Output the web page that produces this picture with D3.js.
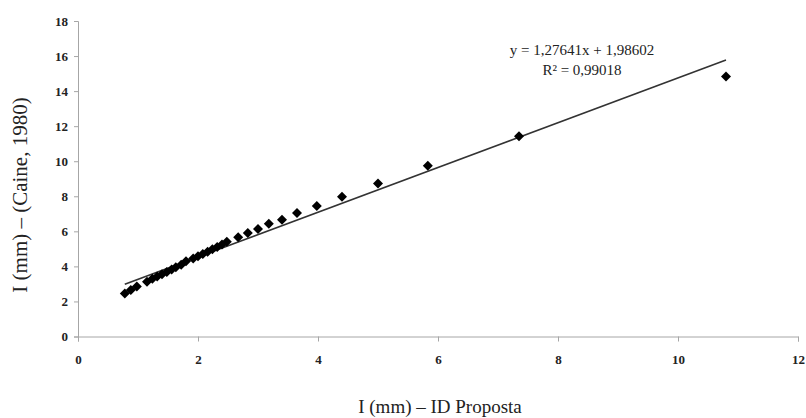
<!DOCTYPE html>
<html>
<head>
<meta charset="utf-8">
<script src="https://cdn.jsdelivr.net/npm/d3@7/dist/d3.min.js"></script>
<style>
  html, body { margin: 0; padding: 0; background: #fff; }
  svg { display: block; }
  .title { font-family: "Liberation Serif", "Times New Roman", serif; fill: #222; }
</style>
</head>
<body>
<svg id="chart" width="806" height="418"></svg>
<script>
// Measured intensities: proposed IDF relation (x) vs. Caine (1980) threshold (y), in mm
const idProposta = [0.78, 0.88, 0.98, 1.15, 1.24, 1.32, 1.40, 1.48, 1.56, 1.63, 1.72, 1.80, 1.92, 2.00, 2.08, 2.16, 2.24, 2.32, 2.40, 2.48,
                    2.67, 2.83, 3.00, 3.18, 3.40, 3.65, 3.98, 4.40, 5.00, 5.83, 7.35, 10.80];
const caine1980  = [2.45, 2.65, 2.85, 3.12, 3.30, 3.42, 3.55, 3.68, 3.82, 3.95, 4.10, 4.30, 4.45, 4.58, 4.70, 4.83, 4.98, 5.10, 5.25, 5.40,
                    5.66, 5.91, 6.13, 6.43, 6.66, 7.05, 7.45, 7.97, 8.73, 9.74, 11.43, 14.83];

// Linear trend fitted to the series
const trendSlope = 1.27641;
const trendIntercept = 1.98602;
const trendLabels = ["y = 1,27641x + 1,98602", "R² = 0,99018"];

const xTicks = [0, 2, 4, 6, 8, 10, 12];
const yTicks = [0, 2, 4, 6, 8, 10, 12, 14, 16, 18];
const xTitle = "I (mm) – ID Proposta";
const yTitle = "I (mm) – (Caine, 1980)";

const svg = d3.select("#chart");
const x = d3.scaleLinear().domain([0, 12]).range([78, 798]);
const y = d3.scaleLinear().domain([0, 18]).range([336.5, 21]);

const axisColor = "#a6a6a6";

const gx = svg.append("g")
  .attr("transform", `translate(0,${y(0)})`)
  .call(d3.axisBottom(x).tickValues(xTicks).tickFormat(d3.format("d")).tickSizeOuter(0).tickSize(5).tickPadding(13));
const gy = svg.append("g")
  .attr("transform", `translate(${x(0)},0)`)
  .call(d3.axisLeft(y).tickValues(yTicks).tickFormat(d3.format("d")).tickSizeOuter(0).tickSize(4).tickPadding(6));
[gx, gy].forEach(g => {
  g.select(".domain").attr("stroke", axisColor);
  g.selectAll(".tick line").attr("stroke", axisColor);
  g.selectAll(".tick text")
    .style("font-family", "'Liberation Serif', 'Times New Roman', serif")
    .style("font-weight", "bold")
    .style("font-size", "13px")
    .style("fill", "#222");
});

// Trend line across the range of the data
const xExt = d3.extent(idProposta);
svg.append("line")
  .attr("x1", x(xExt[0])).attr("y1", y(trendSlope * xExt[0] + trendIntercept))
  .attr("x2", x(xExt[1])).attr("y2", y(trendSlope * xExt[1] + trendIntercept))
  .attr("stroke", "#333").attr("stroke-width", 1.6);

// Diamond markers
const points = idProposta.map((v, i) => ({ x: v, y: caine1980[i] }));
const diamond = d3.symbol().type(d3.symbolSquare).size(50);
svg.append("g").selectAll("path").data(points).join("path")
  .attr("d", diamond)
  .attr("transform", d => `translate(${x(d.x)},${y(d.y)}) rotate(45)`)
  .attr("fill", "#000");

// Equation label
svg.append("g").selectAll("text").data(trendLabels).join("text")
  .attr("class", "title")
  .attr("x", 582).attr("y", (d, i) => 55 + i * 20)
  .attr("text-anchor", "middle")
  .attr("font-size", 15)
  .text(d => d);

// Axis titles
svg.append("text").attr("class", "title")
  .attr("x", 440).attr("y", 413)
  .attr("text-anchor", "middle").attr("font-size", 19)
  .text(xTitle);
svg.append("text").attr("class", "title")
  .attr("transform", "translate(27,195) rotate(-90)")
  .attr("text-anchor", "middle").attr("font-size", 21)
  .text(yTitle);
</script>
</body>
</html>
